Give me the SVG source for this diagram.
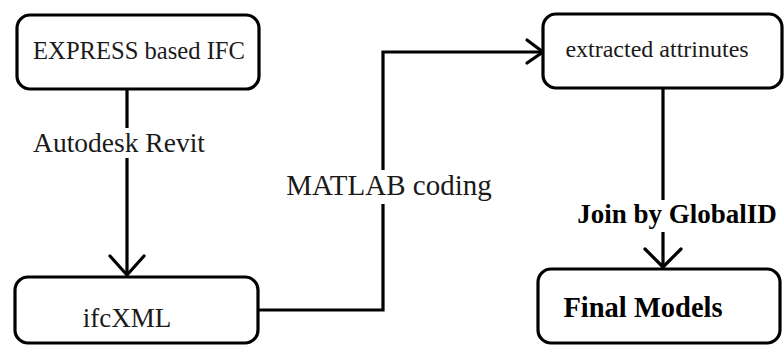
<svg xmlns="http://www.w3.org/2000/svg" width="784" height="345" viewBox="0 0 784 345">
  <style>
    .box { fill: #ffffff; stroke: #000000; stroke-width: 3.2; }
    .lbl { font-family: "Liberation Serif", "Times New Roman", serif; fill: #1a1a1a; text-anchor: middle; }
    .bold { font-weight: bold; fill: #000000; }
    .wire { fill: none; stroke: #000000; stroke-width: 3.2; }
    .head { fill: none; stroke: #000000; stroke-width: 3.2; stroke-linecap: round; stroke-linejoin: round; }
  </style>
  <rect width="784" height="345" fill="#ffffff"/>

  <!-- connectors -->
  <g id="connectors">
    <!-- EXPRESS -> ifcXML -->
    <line class="wire" x1="127" y1="89" x2="127" y2="275"/>
    <polyline class="head" points="110,256 127,275 144,256"/>
    <!-- ifcXML -> extracted attributes -->
    <polyline class="wire" points="258,310 383,310 383,52 541,52"/>
    <polyline class="head" points="527,40 543,52 527,63"/>
    <!-- extracted attributes -> Final Models -->
    <line class="wire" x1="663" y1="88" x2="663" y2="267"/>
    <polyline class="head" points="645,249 663,267 681,249"/>
    <!-- connector labels, drawn on a white backing so the line breaks around them -->
    <rect x="30" y="128" width="180" height="30" fill="#ffffff"/>
    <text class="lbl" x="119" y="152" font-size="27.5">Autodesk Revit</text>
    <rect x="282" y="170" width="214" height="34" fill="#ffffff"/>
    <text class="lbl" x="389" y="195" font-size="29">MATLAB coding</text>
    <rect x="570" y="200" width="214" height="32" fill="#ffffff"/>
    <text class="lbl bold" x="677" y="223" font-size="27">Join by GlobalID</text>
  </g>

  <g id="node-express">
    <rect class="box" x="17" y="15" width="242" height="74" rx="13"/>
    <text class="lbl" x="139" y="59" font-size="24.6">EXPRESS based IFC</text>
  </g>

  <g id="node-ifcxml">
    <rect class="box" x="15" y="277" width="243" height="66" rx="13"/>
    <text class="lbl" x="127" y="327" font-size="27">ifcXML</text>
  </g>

  <g id="node-attributes">
    <rect class="box" x="543" y="14" width="239" height="74" rx="13"/>
    <text class="lbl" x="657" y="57" font-size="24">extracted attrinutes</text>
  </g>

  <g id="node-final">
    <rect class="box" x="538" y="269" width="242" height="74" rx="13"/>
    <text class="lbl bold" x="643" y="317" font-size="28.5">Final Models</text>
  </g>
</svg>
